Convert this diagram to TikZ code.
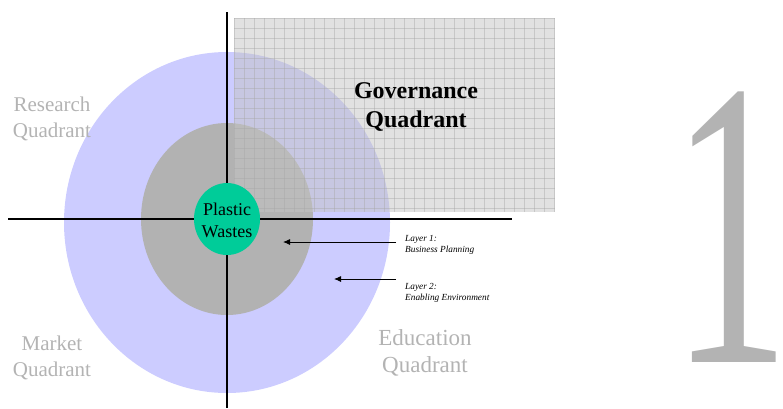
\documentclass[tikz,border=0pt]{standalone}
\usepackage{fontspec}
\setmainfont{Liberation Serif}
\usetikzlibrary{arrows.meta}
\definecolor{outerblue}{HTML}{CCCCFF}
\definecolor{innergray}{HTML}{B2B2B2}
\definecolor{coregreen}{HTML}{00CC99}
\definecolor{labelgray}{HTML}{B3B3B3}
\definecolor{gridbase}{HTML}{C4C4C4}
\definecolor{gridline}{HTML}{A8A8A8}
\tikzset{
  axis/.style={line width=2.8pt},
  quadlabel/.style={text=labelgray, font=\fontsize{21}{26}\selectfont, align=center, inner sep=0pt, anchor=base},
  govlabel/.style={font=\bfseries\fontsize{24}{29}\selectfont, align=center, inner sep=0pt, anchor=base},
  layerlabel/.style={font=\itshape\fontsize{9.3}{11}\selectfont, align=left, inner sep=0pt, anchor=base west},
  layerarrow/.style={line width=0.9pt, -{Latex[length=7pt,width=6pt]}},
}
\begin{document}
\begin{tikzpicture}[x=1pt,y=-1pt]
\useasboundingbox (0,0) rectangle (783,408);
% layers
\fill[outerblue] (227,222.5) ellipse [x radius=163, y radius=170.5];
\fill[innergray] (227,219) ellipse [x radius=86, y radius=96];
% governance grid panel
\fill[gridbase, fill opacity=0.5] (234,18) rectangle (555,212);
\begin{scope}
\clip (234,18) rectangle (555,212);
\foreach \i in {0,...,32} {\draw[gridline, line width=0.6pt, opacity=0.45] (234+10*\i,18) -- (234+10*\i,212);}
\foreach \j in {0,...,19} {\draw[gridline, line width=0.6pt, opacity=0.45] (234,18+10*\j) -- (555,18+10*\j);}
\end{scope}
% axes
\coordinate (hl) at (8,219);
\coordinate (hr) at (512,219);
\coordinate (vt) at (227,12);
\coordinate (vb) at (227,408);
\draw[axis] (hl) -- (hr);
\draw[axis] (vt) -- (vb);
% core
\fill[coregreen] (227,219) ellipse [x radius=33, y radius=36];
\node[font=\fontsize{18}{22}\selectfont, align=center, inner sep=0pt, anchor=base] (core) at (227,237) {Plastic\\Wastes};
% quadrant labels
\node[quadlabel] (research) at (52,137) {Research\\Quadrant};
\node[quadlabel] (market) at (52,376) {Market\\Quadrant};
\node[quadlabel, font=\fontsize{23}{27}\selectfont] (education) at (425,372) {Education\\Quadrant};
\node[govlabel] (governance) at (416,127) {Governance\\Quadrant};
% layer arrows
\coordinate (a1s) at (396,242);
\coordinate (a1e) at (283,242);
\coordinate (a2s) at (396,279);
\coordinate (a2e) at (334,279);
\draw[layerarrow] (a1s) -- (a1e);
\draw[layerarrow] (a2s) -- (a2e);
\node[layerlabel] (l1) at (405,252) {Layer 1:\\Business Planning};
\node[layerlabel] (l2) at (405,300) {Layer 2:\\Enabling Environment};
% big number
\node[text=labelgray, font=\fontsize{410}{410}\selectfont, inner sep=0pt, anchor=base, xscale=0.58] (num) at (731,362) {1};
\end{tikzpicture}
\end{document}
